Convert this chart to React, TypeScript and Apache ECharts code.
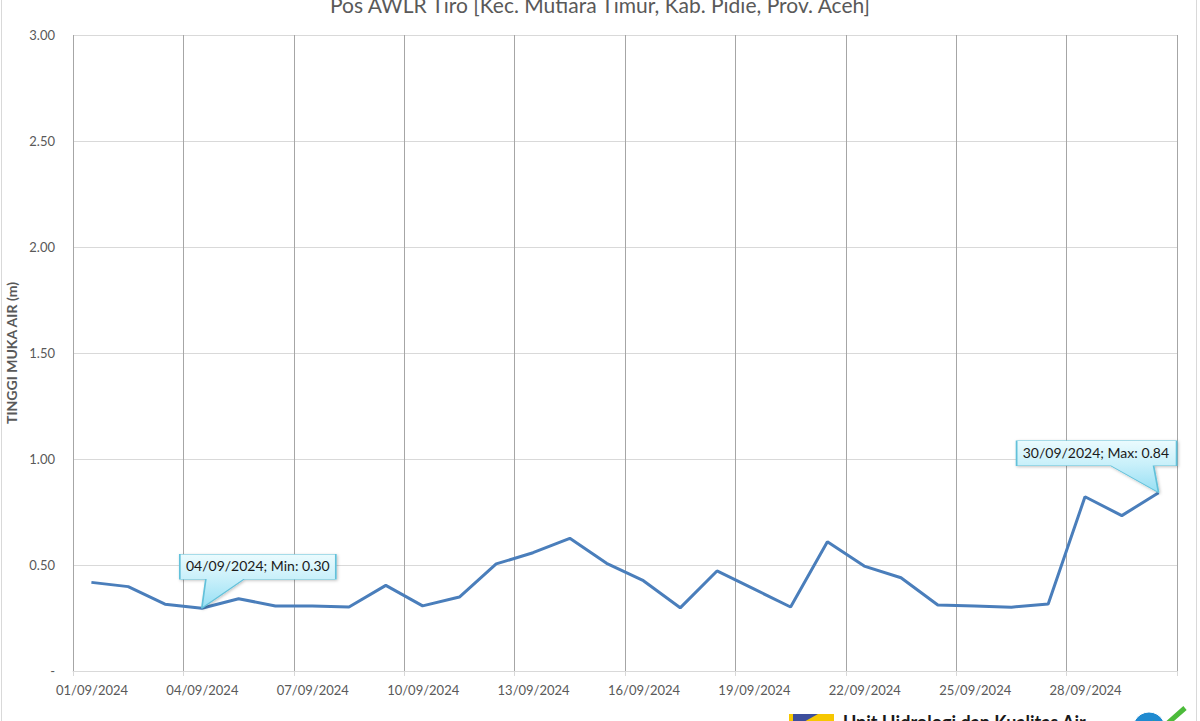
import React, { useEffect, useRef } from "react";
import * as echarts from "echarts";

const TITLE = "Pos AWLR Tiro [Kec. Mutiara Timur, Kab. Pidie, Prov. Aceh]";
const Y_NAME = "TINGGI MUKA AIR (m)";
const dates = [
  "01/09/2024", "02/09/2024", "03/09/2024", "04/09/2024", "05/09/2024", "06/09/2024",
  "07/09/2024", "08/09/2024", "09/09/2024", "10/09/2024", "11/09/2024", "12/09/2024",
  "13/09/2024", "14/09/2024", "15/09/2024", "16/09/2024", "17/09/2024", "18/09/2024",
  "19/09/2024", "20/09/2024", "21/09/2024", "22/09/2024", "23/09/2024", "24/09/2024",
  "25/09/2024", "26/09/2024", "27/09/2024", "28/09/2024", "29/09/2024", "30/09/2024",
];
const levels = [
  0.418, 0.398, 0.315, 0.296, 0.341, 0.307, 0.307, 0.302, 0.404, 0.307,
  0.349, 0.505, 0.558, 0.626, 0.508, 0.426, 0.298, 0.472, 0.387, 0.302,
  0.61, 0.495, 0.44, 0.311, 0.307, 0.301, 0.316, 0.822, 0.733, 0.841,
];
const yTicks = [0, 0.5, 1, 1.5, 2, 2.5, 3];

const FONT = "Lato, 'Open Sans', sans-serif";

export default function App() {
  const ref = useRef<HTMLDivElement>(null);
  useEffect(() => {
    if (!ref.current) return;
    const chart = echarts.init(ref.current, undefined, { renderer: "svg" });

    let minI = 0;
    let maxI = 0;
    levels.forEach((v, i) => {
      if (v < levels[minI]) minI = i;
      if (v > levels[maxI]) maxI = i;
    });

    const calloutFill = {
      type: "linear",
      x: 0, y: 0, x2: 0, y2: 1,
      colorStops: [
        { offset: 0, color: "#ebfbfe" },
        { offset: 0.45, color: "#c9f0fa" },
        { offset: 1, color: "#96dff4" },
      ],
    };
    const calloutItem = {
      color: calloutFill,
      borderColor: "#62c1da",
      borderWidth: 1,
      shadowBlur: 3,
      shadowOffsetX: 1,
      shadowOffsetY: 1,
      shadowColor: "rgba(0,0,0,0.25)",
    };
    const calloutLabel = {
      show: true,
      position: [7, 5],
      color: "#1a1a1a",
      fontSize: 14,
      fontFamily: FONT,
      align: "left",
      verticalAlign: "top",
    };

    chart.setOption({
      animation: false,
      backgroundColor: "#ffffff",
      title: {
        text: TITLE,
        left: "center",
        top: -11,
        textStyle: { color: "#595959", fontSize: 21, fontWeight: "normal", fontFamily: FONT },
      },
      grid: { left: 73, right: 23, top: 35, bottom: 50, containLabel: false, outerBoundsMode: "none" },
      xAxis: {
        type: "value",
        min: 0,
        max: 30,
        interval: 3,
        axisLine: { show: true, lineStyle: { color: "#d9d9d9", width: 1 } },
        axisTick: { show: true, length: 5, lineStyle: { color: "#d9d9d9" } },
        splitLine: { show: true, lineStyle: { color: "#a6a6a6", width: 1 } },
        axisLabel: {
          color: "#595959",
          fontSize: 13,
          fontFamily: FONT,
          margin: 12,
          padding: [0, 0, 0, 38],
          formatter: (v: number) => (v >= dates.length ? "" : dates[Math.round(v)]),
        },
      },
      yAxis: {
        type: "value",
        min: yTicks[0],
        max: yTicks[yTicks.length - 1],
        interval: 0.5,
        name: Y_NAME,
        nameLocation: "middle",
        nameGap: 50,
        nameTextStyle: { color: "#595959", fontSize: 14, fontWeight: "bold", fontFamily: FONT },
        axisLine: { show: false },
        axisTick: { show: false },
        splitLine: { show: true, lineStyle: { color: "#d9d9d9", width: 1 } },
        axisLabel: {
          color: "#595959",
          fontSize: 13,
          fontFamily: FONT,
          margin: 18,
          formatter: (v: number) => (v === 0 ? "-" : v.toFixed(2)),
        },
      },
      series: [
        {
          type: "line",
          data: levels.map((v, i) => [i + 0.5, v]),
          symbol: "none",
          lineStyle: { color: "#4a7ebb", width: 3 },
          z: 3,
          markPoint: {
            z: 5,
            data: [
              {
                coord: [minI + 0.5, levels[minI]],
                symbol: "path://M0 0 H156 V25 H64 L22 54 L26 25 H0 Z",
                symbolSize: [156, 54],
                symbolOffset: [56, -27],
                itemStyle: calloutItem,
                label: { ...calloutLabel, formatter: `${dates[minI]}; Min: ${levels[minI].toFixed(2)}` },
              },
              {
                coord: [maxI + 0.5, levels[maxI]],
                symbol: "path://M0 0 H160 V25 H137 L142 52 L94 25 H0 Z",
                symbolSize: [160, 52],
                symbolOffset: [-62, -26],
                itemStyle: calloutItem,
                label: { ...calloutLabel, formatter: `${dates[maxI]}; Max: ${levels[maxI].toFixed(2)}` },
              },
            ],
          },
        },
      ],
      graphic: [
        {
          type: "rect",
          shape: { x: 1.5, y: -10, width: 1195, height: 760 },
          style: { fill: "none", stroke: "#d9d9d9", lineWidth: 1 },
          silent: true,
        },
        {
          type: "rect",
          shape: { x: 789, y: 714, width: 45, height: 16 },
          style: { fill: "#f6c700" },
        },
        {
          type: "polygon",
          shape: { points: [[793, 714], [818, 714], [793, 728]] },
          style: { fill: "#3d4f9c" },
        },
        {
          type: "text",
          style: {
            x: 843,
            y: 713,
            text: "Unit Hidrologi dan Kualitas Air",
            fill: "#1a1a1a",
            fontSize: 18,
            fontWeight: "bold",
            fontFamily: FONT,
            verticalAlign: "top",
          },
        },
        {
          type: "circle",
          shape: { cx: 1149, cy: 728, r: 16 },
          style: { fill: "#1f8ad0", stroke: "#ffffff", lineWidth: 1 },
        },
        {
          type: "polyline",
          shape: { points: [[1152, 722], [1160, 730], [1185, 708]] },
          style: { stroke: "#4cbb3a", lineWidth: 5, fill: "none" },
        },
      ],
    });
    return () => chart.dispose();
  }, []);
  return (
    <div
      ref={ref}
      style={{ position: "fixed", left: 0, top: 0, width: 1200, height: 721 }}
    />
  );
}
